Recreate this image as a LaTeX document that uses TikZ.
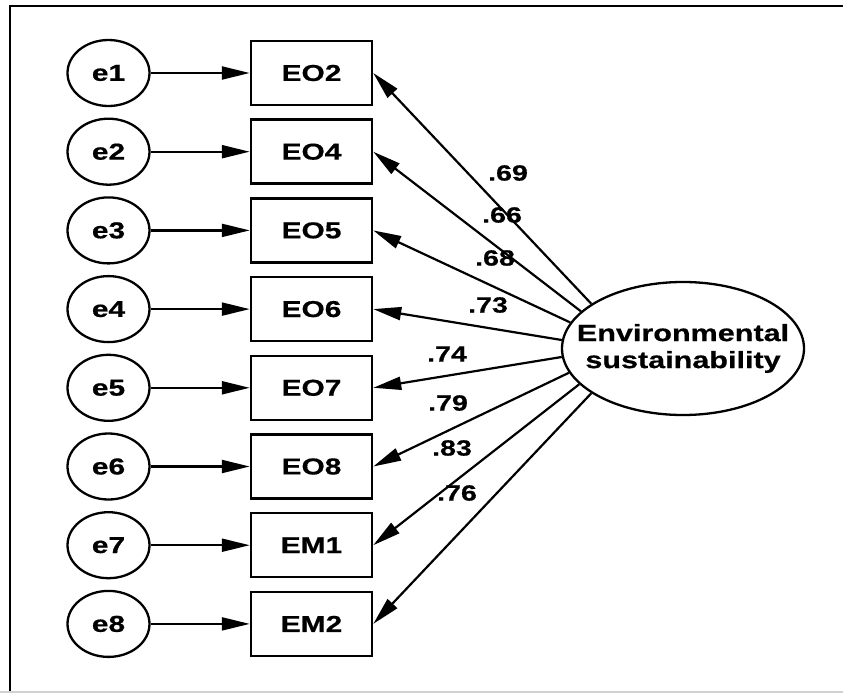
\documentclass[tikz,border=0pt]{standalone}
\usepackage{fontspec}
\setmainfont{Liberation Sans}[FakeStretch=1.3,FakeBold=0.6]
\usetikzlibrary{shapes.geometric,arrows.meta}

\begin{document}
\begin{tikzpicture}[x=1pt,y=-1pt,
  errnode/.style={ellipse,draw,line width=2.3pt,minimum width=82pt,minimum height=66pt,inner sep=0pt,
    font=\fontsize{23}{27}\selectfont\bfseries},
  itembox/.style={rectangle,draw,line width=2.5pt,minimum width=121pt,minimum height=64pt,inner sep=0pt,
    font=\fontsize{23}{27}\selectfont\bfseries},
  latent/.style={ellipse,draw,line width=2.3pt,minimum width=242pt,minimum height=133pt,inner sep=0pt},
  latenttext/.style={align=center,inner sep=0pt,font=\fontsize{23.5}{27}\selectfont\bfseries},
  path/.style={line width=2.2pt,-{Triangle[length=28pt,width=13pt]}},
  loading/.style={font=\fontsize{22}{24}\selectfont\bfseries,inner sep=0pt}]

  \useasboundingbox (0,0) rectangle (843,693);

  % frame
  \draw[line width=2pt] (9.5,693) -- (9.5,6.5) -- (843,6.5);
  \draw[line width=1.5pt,black!18] (0,691.8) -- (843,691.8);

  % error terms and observed indicators
  \foreach \i/\lab in {1/EO2,2/EO4,3/EO5,4/EO6,5/EO7,6/EO8,7/EM1,8/EM2}{
    \node[errnode] (e\i) at (108.5,{73+78.7*(\i-1)}) {e\i};
    \node[itembox] (b\i) at (311.5,{73+78.7*(\i-1)}) {\lab};
    \draw[path] (e\i) -- (b\i);
  }

  % latent factor
  \node[latent] (F) at (683,348.5) {};
  \node[latenttext] (Ft) at (F.center) {Environmental\\sustainability};

  % factor loadings
  \foreach \i/\a in {1/154,2/160.5,3/167.5,4/176,5/184,6/192.5,7/199.5,8/206}{
    \draw[path] (F.\a) -- (b\i.east);
  }

  \node[loading] (l1) at (508,173) {.69};
  \node[loading] (l2) at (502,215) {.66};
  \node[loading] (l3) at (495,258) {.68};
  \node[loading] (l4) at (488,305) {.73};
  \node[loading] (l5) at (447,354) {.74};
  \node[loading] (l6) at (448,403) {.79};
  \node[loading] (l7) at (452,448) {.83};
  \node[loading] (l8) at (457,493) {.76};
\end{tikzpicture}
\end{document}
